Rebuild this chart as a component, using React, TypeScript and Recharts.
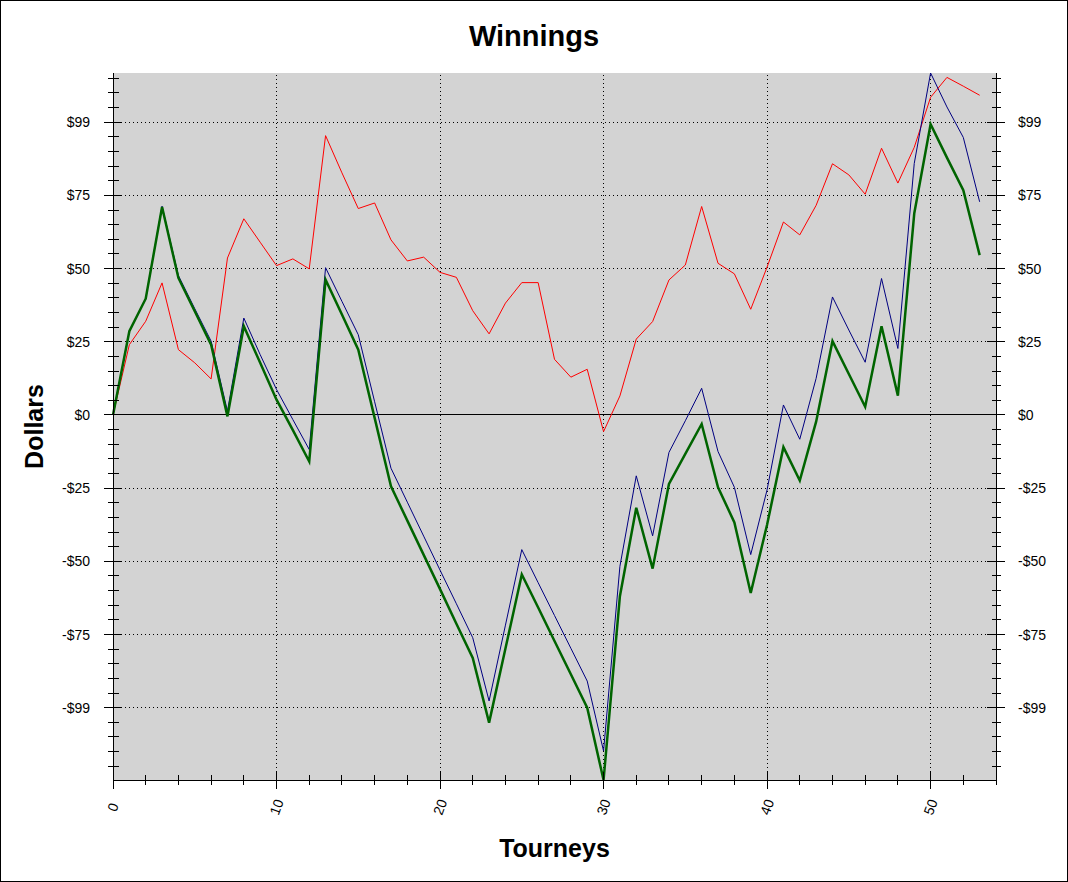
import { LineChart, Line, XAxis, YAxis, CartesianGrid, ReferenceLine } from 'recharts';

const TOURNEYS = [
  0, 1, 2, 3, 4, 5, 6, 7, 8, 9, 10, 11, 12, 13, 14, 15, 16, 17, 18, 19, 20, 21, 22, 23, 24, 25, 26,
  27, 28, 29, 30, 31, 32, 33, 34, 35, 36, 37, 38, 39, 40, 41, 42, 43, 44, 45, 46, 47, 48, 49, 50, 51, 52, 53,
];

const RED = [
  0, 24.0, 32.0, 45.1, 22.3, 17.8, 12.3, 53.6, 67.0, 59.0, 51.0, 53.3, 49.9, 95.4, 82.7, 70.5, 72.4, 59.8,
  52.6, 53.9, 48.7, 47.0, 35.6, 27.7, 38.2, 45.2, 45.2, 19.0, 12.9, 15.6, -5.7, 6.5, 25.9, 31.9, 46.1, 51.2,
  71.2, 51.8, 48.2, 36.1, 50.5, 65.9, 61.5, 71.6, 85.8, 82.0, 75.4, 91.1, 79.2, 91.4, 108.5, 115.3, 112.3, 109.2,
];

const BLUE = [
  0, 28.6, 39.7, 71.3, 47.6, 36.3, 25.2, 1.3, 33.1, 20.6, 8.7, -1.6, -11.8, 50.3, 38.8, 27.4, 4.5, -18.2,
  -29.8, -41.4, -53.0, -64.5, -76.1, -97.7, -71.8, -46.0, -57.3, -68.5, -79.7, -90.9, -114.8, -51.7, -20.8, -41.3, -12.8, -2.0,
  9.1, -12.5, -24.7, -47.7, -25.6, 3.4, -8.3, 12.5, 40.3, 29.0, 18.0, 46.6, 22.7, 85.9, 116.8, 105.2, 94.8, 72.8,
];

const GREEN = [
  0, 28.6, 39.7, 71.0, 46.8, 35.4, 24.0, -0.5, 30.3, 17.8, 5.2, -5.2, -15.9, 46.2, 34.3, 22.3, -1.0, -24.4,
  -36.1, -47.8, -59.5, -71.3, -83.0, -105.1, -79.8, -54.5, -65.8, -77.2, -88.6, -100.0, -124.7, -61.9, -31.7, -52.5, -23.6, -13.3,
  -3.1, -24.7, -36.7, -60.8, -37.5, -11.0, -22.4, -2.3, 25.2, 14.0, 2.8, 30.3, 6.6, 68.8, 99.3, 87.9, 76.8, 54.6,
];

const Y_TICKS = [-100, -75, -50, -25, 0, 25, 50, 75, 100];
const Y_TICK_LABELS = ['-$99', '-$75', '-$50', '-$25', '$0', '$25', '$50', '$75', '$99'];
const X_TICKS = [0, 10, 20, 30, 40, 50];
const X_TICK_LABELS = ['0', '10', '20', '30', '40', '50'];

const data = TOURNEYS.map((t, i) => ({ t, red: RED[i], blue: BLUE[i], green: GREEN[i] }));

const yMin = Math.min(...RED, ...BLUE, ...GREEN);
const yMax = Math.max(...RED, ...BLUE, ...GREEN);

// minor ticks: every $5 and every 2 tourneys
const yMinor: number[] = [];
for (let v = -120; v <= 115; v += 5) yMinor.push(v);
const xMinor: number[] = [];
for (let v = 0; v <= 54; v += 2) xMinor.push(v);

const font = '"Liberation Sans", Arial, sans-serif';

const LeftTick = (props: any) => {
  const { x, y, payload } = props;
  const idx = Y_TICKS.indexOf(payload.value);
  const major = idx >= 0;
  return (
    <g>
      <line x1={x - (major ? 9 : 5)} x2={x + (major ? 9 : 6)} y1={y} y2={y} stroke="#000" shapeRendering="crispEdges" />
      {major && (
        <text x={x - 23} y={y} textAnchor="end" dominantBaseline="central" fontSize={14} fontFamily={font} fill="#000">
          {Y_TICK_LABELS[idx]}
        </text>
      )}
    </g>
  );
};

const RightTick = (props: any) => {
  const { x, y, payload } = props;
  const idx = Y_TICKS.indexOf(payload.value);
  const major = idx >= 0;
  return (
    <g>
      <line x1={x - (major ? 9 : 4)} x2={x + (major ? 9 : 5)} y1={y} y2={y} stroke="#000" shapeRendering="crispEdges" />
      {major && (
        <text x={x + 22} y={y} textAnchor="start" dominantBaseline="central" fontSize={14} fontFamily={font} fill="#000">
          {Y_TICK_LABELS[idx]}
        </text>
      )}
    </g>
  );
};

const BottomTick = (props: any) => {
  const { x, y, payload } = props;
  const idx = X_TICKS.indexOf(payload.value);
  const major = idx >= 0;
  const ly = y + 27;
  return (
    <g>
      <line x1={x} x2={x} y1={y - (major ? 8 : 5)} y2={y + (major ? 9 : 5)} stroke="#000" shapeRendering="crispEdges" />
      {major && (
        <text
          x={x}
          y={ly}
          transform={`rotate(-70 ${x} ${ly})`}
          textAnchor="middle"
          dominantBaseline="central"
          fontSize={14}
          fontFamily={font}
          fill="#000"
        >
          {X_TICK_LABELS[idx]}
        </text>
      )}
    </g>
  );
};

const TopTick = (props: any) => {
  const { x, y, payload } = props;
  const major = X_TICKS.indexOf(payload.value) >= 0;
  return <line x1={x} x2={x} y1={y} y2={y + (major ? 8 : 5)} stroke="#000" shapeRendering="crispEdges" />;
};

const DollarsLabel = ({ viewBox }: any) => {
  const vx = viewBox?.x ?? 0;
  const cy = (viewBox?.y ?? 73) + (viewBox?.height ?? 707) / 2;
  const cx = vx + 43;
  return (
    <text x={cx} y={cy} transform={`rotate(-90 ${cx} ${cy})`} textAnchor="middle" fontSize={25} fontWeight="bold" fontFamily={font} fill="#000">
      Dollars
    </text>
  );
};

const TourneysLabel = ({ viewBox }: any) => {
  const cx = (viewBox?.x ?? 113) + (viewBox?.width ?? 883) / 2;
  const by = (viewBox?.y ?? 780) + 77;
  return (
    <text x={cx} y={by} textAnchor="middle" fontSize={25} fontWeight="bold" fontFamily={font} fill="#000">
      Tourneys
    </text>
  );
};

export default function App() {
  return (
    <div style={{ position: 'absolute', left: 0, top: 0, width: 1068, height: 882, background: '#fff' }}>
      <LineChart width={1068} height={882} data={data} margin={{ top: 73, right: 0, bottom: 0, left: 0 }}>
        <CartesianGrid xAxisId="bottom" yAxisId="left" fill="#d3d3d3" horizontal={false} vertical={false} />
        <XAxis
          xAxisId="bottom"
          dataKey="t"
          type="number"
          domain={[0, 54]}
          ticks={xMinor}
          interval={0}
          height={102}
          tickSize={0}
          tickMargin={0}
          tickLine={false}
          axisLine={{ stroke: '#000', shapeRendering: 'crispEdges' }}
          tick={<BottomTick />}
          label={<TourneysLabel />}
        />
        <XAxis
          xAxisId="top"
          orientation="top"
          type="number"
          domain={[0, 54]}
          allowDataOverflow
          ticks={xMinor}
          interval={0}
          height={0}
          tickSize={0}
          tickMargin={0}
          tickLine={false}
          axisLine={{ stroke: '#000', shapeRendering: 'crispEdges' }}
          tick={<TopTick />}
        />
        <YAxis
          yAxisId="left"
          type="number"
          domain={[yMin, yMax]}
          ticks={yMinor}
          interval={0}
          width={113}
          tickSize={0}
          tickMargin={0}
          tickLine={false}
          axisLine={{ stroke: '#000', shapeRendering: 'crispEdges' }}
          tick={<LeftTick />}
          label={<DollarsLabel />}
        />
        <YAxis
          yAxisId="right"
          orientation="right"
          type="number"
          domain={[yMin, yMax]}
          allowDataOverflow
          ticks={yMinor}
          interval={0}
          width={72}
          tickSize={0}
          tickMargin={0}
          tickLine={false}
          axisLine={{ stroke: '#000', shapeRendering: 'crispEdges' }}
          tick={<RightTick />}
        />
        {Y_TICKS.filter((v) => v !== 0).map((v) => (
          <ReferenceLine key={`h${v}`} xAxisId="bottom" yAxisId="left" y={v} stroke="#000" strokeDasharray="1 3" shapeRendering="crispEdges" />
        ))}
        {X_TICKS.filter((v) => v !== 0).map((v) => (
          <ReferenceLine key={`v${v}`} xAxisId="bottom" yAxisId="left" x={v} stroke="#000" strokeDasharray="1 3" shapeRendering="crispEdges" />
        ))}
        <ReferenceLine xAxisId="bottom" yAxisId="left" y={0} stroke="#000" shapeRendering="crispEdges" />
        <Line xAxisId="bottom" yAxisId="left" type="linear" dataKey="red" stroke="#ff0000" strokeWidth={1} dot={false} isAnimationActive={false} />
        <Line xAxisId="bottom" yAxisId="left" type="linear" dataKey="blue" stroke="#000080" strokeWidth={1} dot={false} isAnimationActive={false} />
        <Line xAxisId="bottom" yAxisId="left" type="linear" dataKey="green" stroke="#006400" strokeWidth={2.5} dot={false} isAnimationActive={false} />
      </LineChart>
      <svg width={1068} height={882} style={{ position: 'absolute', left: 0, top: 0, pointerEvents: 'none' }}>
        <rect x={0.5} y={0.5} width={1067} height={881} fill="none" stroke="#000" />
        <text x={534} y={46} textAnchor="middle" fontSize={29} fontWeight="bold" fontFamily={font} fill="#000">
          Winnings
        </text>
      </svg>
    </div>
  );
}
